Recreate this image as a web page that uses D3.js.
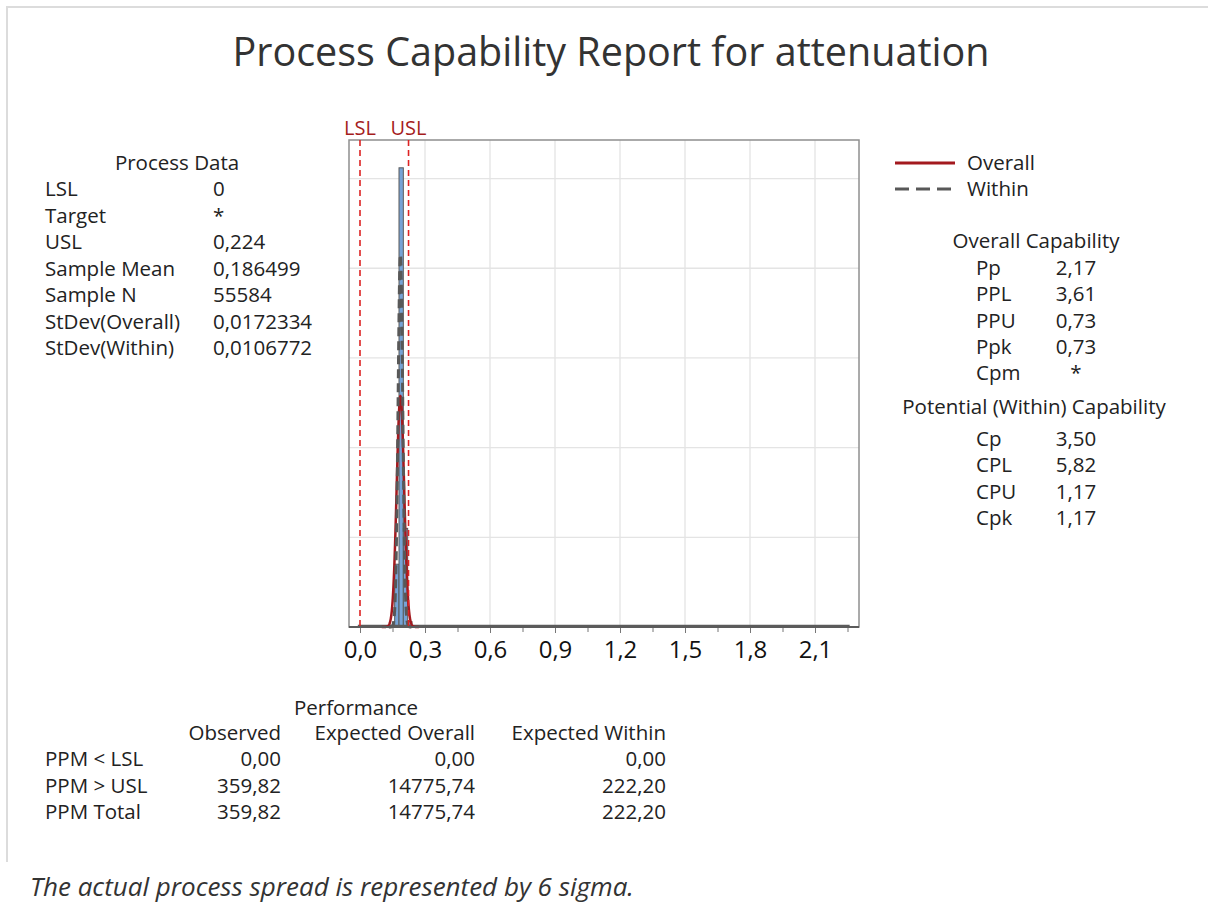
<!DOCTYPE html>
<html>
<head>
<meta charset="utf-8">
<script src="https://cdn.jsdelivr.net/npm/d3@7"></script>
<style>
  body { margin: 0; background: #fff; }
  svg text { font-family: "Open Sans", "Noto Sans", sans-serif; fill: #222; }
</style>
</head>
<body>
<script>
// process data
const LSL = 0;
const USL = 0.224;
const sampleMean = 0.186499;
const sampleN = 55584;
const sdOverall = 0.0172334;
const sdWithin = 0.0106772;

// histogram bins (start of bin) and counts
const binWidth = 0.02;
const binStarts = [0.00, 0.14, 0.16, 0.18, 0.20, 0.22];
const binCounts = [150, 200, 7000, 51200, 11000, 600];
const dataRange = [-0.01, 2.26];

const xTicks = [0, 0.3, 0.6, 0.9, 1.2, 1.5, 1.8, 2.1];
const xMinorTicks = [0.15, 0.45, 0.75, 1.05, 1.35, 1.65, 1.95, 2.25];
const yGrid = [10000, 20000, 30000, 40000, 50000];

const processLabels = ["LSL", "Target", "USL", "Sample Mean", "Sample N", "StDev(Overall)", "StDev(Within)"];
const processValues = ["0", "*", "0,224", "0,186499", "55584", "0,0172334", "0,0106772"];

const overallLabels = ["Pp", "PPL", "PPU", "Ppk", "Cpm"];
const overallValues = ["2,17", "3,61", "0,73", "0,73", "*"];
const withinLabels = ["Cp", "CPL", "CPU", "Cpk"];
const withinValues = ["3,50", "5,82", "1,17", "1,17"];

const perfColumns = ["Observed", "Expected Overall", "Expected Within"];
const perfRows = ["PPM < LSL", "PPM > USL", "PPM Total"];
const perfObserved = ["0,00", "359,82", "359,82"];
const perfExpOverall = ["0,00", "14775,74", "14775,74"];
const perfExpWithin = ["0,00", "222,20", "222,20"];

const W = 1208, H = 906;
const plot = {left: 349, right: 859, top: 140, bottom: 627};

const svg = d3.select("body").append("svg")
    .attr("width", W)
    .attr("height", H);

// outer light frame
svg.append("path")
    .attr("d", `M7,862 V7 H${W}`)
    .attr("fill", "none")
    .attr("stroke", "#dcdcdc")
    .attr("stroke-width", 2);

// title
svg.append("text")
    .attr("x", 611).attr("y", 66)
    .attr("text-anchor", "middle")
    .style("font-size", "39.5px")
    .style("fill", "#333")
    .text("Process Capability Report for attenuation");

// scales
const xScale = d3.scaleLinear()
    .domain([0, 2.1])
    .range([360, 815]);

const yScale = d3.scaleLinear()
    .domain([0, 54300])
    .range([plot.bottom, plot.top]);

const fmt = d3.formatLocale({decimal: ",", thousands: ".", grouping: [3], currency: ["", ""]}).format(".1f");

// gridlines
svg.append("g").selectAll("line")
    .data(xTicks.slice(1))
    .join("line")
    .attr("x1", d => xScale(d)).attr("x2", d => xScale(d))
    .attr("y1", plot.top).attr("y2", plot.bottom)
    .attr("stroke", "#e4e4e4").attr("stroke-width", 1.3);

svg.append("g").selectAll("line")
    .data(yGrid)
    .join("line")
    .attr("x1", plot.left).attr("x2", plot.right)
    .attr("y1", d => yScale(d)).attr("y2", d => yScale(d))
    .attr("stroke", "#e4e4e4").attr("stroke-width", 1.3);

// plot frame
svg.append("rect")
    .attr("x", plot.left).attr("y", plot.top)
    .attr("width", plot.right - plot.left)
    .attr("height", plot.bottom - plot.top)
    .attr("fill", "none")
    .attr("stroke", "#8f8f8f")
    .attr("stroke-width", 1.5);

// histogram bars
svg.append("g").selectAll("rect")
    .data(binStarts)
    .join("rect")
    .attr("x", d => xScale(d))
    .attr("width", d => xScale(d + binWidth) - xScale(d))
    .attr("y", (d, i) => yScale(binCounts[i]))
    .attr("height", (d, i) => yScale(0) - yScale(binCounts[i]))
    .attr("fill", "#76a3d6")
    .attr("stroke", "#5b5b5b")
    .attr("stroke-width", 1);

// baseline of the (near empty) histogram bins across the data range
svg.append("line")
    .attr("x1", xScale(dataRange[0])).attr("x2", xScale(dataRange[1]))
    .attr("y1", yScale(0) - 1).attr("y2", yScale(0) - 1)
    .attr("stroke", "#5b5b5b").attr("stroke-width", 2.5);

// normal curves scaled to counts
const normal = (x, m, s) => Math.exp(-0.5 * ((x - m) / s) ** 2) / (s * Math.sqrt(2 * Math.PI));

function curvePoints(s) {
    return d3.range(sampleMean - 5 * s, sampleMean + 5 * s, s / 40)
        .map(x => [x, sampleN * binWidth * normal(x, sampleMean, s)]);
}

const curveLine = d3.line()
    .x(d => xScale(d[0]))
    .y(d => yScale(d[1]));

svg.append("path")
    .datum(curvePoints(sdOverall))
    .attr("fill", "none")
    .attr("stroke", "#a3191e")
    .attr("stroke-width", 2.5)
    .attr("d", curveLine);

svg.append("path")
    .datum(curvePoints(sdWithin))
    .attr("fill", "none")
    .attr("stroke", "#585858")
    .attr("stroke-width", 3)
    .attr("stroke-dasharray", "9,5")
    .attr("d", curveLine);

// spec limits
[["LSL", LSL], ["USL", USL]].forEach(([name, v]) => {
    svg.append("line")
        .attr("x1", xScale(v)).attr("x2", xScale(v))
        .attr("y1", plot.top).attr("y2", plot.bottom)
        .attr("stroke", "#dd2323")
        .attr("stroke-width", 1.6)
        .attr("stroke-dasharray", "6,4");
    svg.append("text")
        .attr("x", xScale(v)).attr("y", 128)
        .attr("dy", "0.35em")
        .attr("text-anchor", "middle")
        .style("font-size", "20px")
        .style("fill", "#a51d1d")
        .text(name);
});

// x axis
const xAxis = d3.axisBottom(xScale)
    .tickValues(xTicks)
    .tickSize(6)
    .tickPadding(8)
    .tickFormat(fmt);

const gx = svg.append("g")
    .attr("transform", `translate(0,${plot.bottom})`)
    .call(xAxis);
gx.select(".domain").remove();
gx.selectAll(".tick line").attr("stroke", "#777");
gx.selectAll("text").style("font-size", "24px").style("fill", "#111");

const gxMinor = svg.append("g")
    .attr("transform", `translate(0,${plot.bottom})`)
    .call(d3.axisBottom(xScale).tickValues(xMinorTicks).tickSize(5).tickFormat(""));
gxMinor.select(".domain").remove();
gxMinor.selectAll(".tick line").attr("stroke", "#777");

svg.append("line")
    .attr("x1", plot.left).attr("x2", plot.right)
    .attr("y1", plot.bottom).attr("y2", plot.bottom)
    .attr("stroke", "#5b5b5b").attr("stroke-width", 2);

// helper for table text, y is the text centre
const tableFont = "20.5px";
function label(x, y, txt, anchor) {
    return svg.append("text")
        .attr("x", x).attr("y", y)
        .attr("dy", "0.35em")
        .attr("text-anchor", anchor || "start")
        .style("font-size", tableFont)
        .text(txt);
}

// process data table
label(177, 163, "Process Data", "middle");
processLabels.forEach((lab, i) => {
    const y = 189 + i * 26.5;
    label(45, y, lab);
    label(213, y, processValues[i]);
});

// legend
svg.append("line")
    .attr("x1", 895).attr("x2", 955).attr("y1", 163).attr("y2", 163)
    .attr("stroke", "#a3191e").attr("stroke-width", 3);
label(967, 163, "Overall");
svg.append("line")
    .attr("x1", 895).attr("x2", 955).attr("y1", 189).attr("y2", 189)
    .attr("stroke", "#585858").attr("stroke-width", 3)
    .attr("stroke-dasharray", "14,7");
label(967, 189, "Within");

// capability tables
label(1036, 241, "Overall Capability", "middle");
overallLabels.forEach((lab, i) => {
    const y = 268 + i * 26.3;
    label(976, y, lab);
    label(1076, y, overallValues[i], "middle");
});

label(1034, 407, "Potential (Within) Capability", "middle");
withinLabels.forEach((lab, i) => {
    const y = 439 + i * 26.3;
    label(976, y, lab);
    label(1076, y, withinValues[i], "middle");
});

// performance table
label(356, 708, "Performance", "middle");
const colRight = [281, 475, 666];
perfColumns.forEach((c, j) => label(colRight[j], 733, c, "end"));

const perfCols = [perfObserved, perfExpOverall, perfExpWithin];
perfRows.forEach((r, i) => {
    const y = 759 + i * 26.5;
    label(45, y, r);
    perfCols.forEach((col, j) => label(colRight[j], y, col[i], "end"));
});

// footnote
svg.append("text")
    .attr("x", 30).attr("y", 887)
    .attr("dy", "0.35em")
    .style("font-size", "26px")
    .style("font-style", "italic")
    .style("fill", "#333")
    .text("The actual process spread is represented by 6 sigma.");
</script>
</body>
</html>
